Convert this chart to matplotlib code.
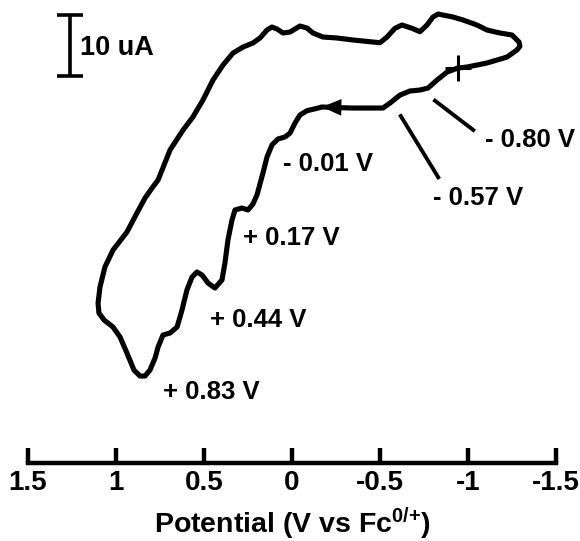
import matplotlib
matplotlib.use("Agg")
import matplotlib.pyplot as plt

plt.rcParams['font.family'] = ['Liberation Sans', 'DejaVu Sans']
plt.rcParams['font.weight'] = 'bold'
plt.rcParams['mathtext.fontset'] = 'custom'
plt.rcParams['mathtext.rm'] = 'Liberation Sans:bold'
plt.rcParams['mathtext.it'] = 'Liberation Sans:bold'
plt.rcParams['mathtext.bf'] = 'Liberation Sans:bold'

# cyclic voltammogram, starting at the open-circuit point (+), scanned
# positive along the lower trace and back along the upper one
potential = [-0.943, -0.881, -0.824, -0.773, -0.727, -0.670, -0.614, -0.557, -0.517, -0.443,
             -0.347, -0.244, -0.170, -0.142, -0.085, -0.045, -0.017, 0.011, 0.040, 0.080,
             0.114, 0.142, 0.165, 0.199, 0.222, 0.250, 0.284, 0.324, 0.341, 0.364,
             0.381, 0.398, 0.438, 0.477, 0.511, 0.540, 0.568, 0.597, 0.625, 0.653,
             0.693, 0.733, 0.761, 0.778, 0.807, 0.835, 0.864, 0.898, 0.938, 0.977,
             1.017, 1.068, 1.097, 1.102, 1.091, 1.063, 1.017, 0.938, 0.881, 0.835,
             0.795, 0.761, 0.693, 0.619, 0.563, 0.506, 0.449, 0.392, 0.335, 0.278,
             0.222, 0.182, 0.142, 0.114, 0.085, 0.051, 0.011, -0.045, -0.085, -0.119,
             -0.176, -0.216, -0.256, -0.347, -0.443, -0.500, -0.540, -0.585, -0.625, -0.682,
             -0.727, -0.767, -0.801, -0.830, -0.915, -0.972, -1.051, -1.108, -1.182, -1.250,
             -1.290, -1.295, -1.278, -1.222, -1.108, -0.994, -0.943]
current = [21.64, 20.98, 19.67, 18.36, 18.03, 17.87, 17.21, 15.90, 15.08, 15.08,
           15.08, 15.16, 15.25, 15.03, 14.64, 13.93, 12.62, 10.98, 10.33, 10.00,
           9.02, 7.05, 4.43, 0.82, -0.66, -1.64, -1.31, -1.64, -3.28, -6.56,
           -10.33, -13.11, -14.43, -13.61, -12.30, -11.80, -12.62, -14.75, -18.03, -20.82,
           -21.80, -22.13, -24.10, -25.90, -27.87, -28.85, -28.85, -27.87, -25.08, -22.46,
           -20.82, -19.67, -18.52, -16.89, -14.26, -10.98, -8.20, -5.25, -2.13, 0.33,
           1.97, 3.28, 8.20, 11.48, 13.61, 16.39, 19.67, 22.13, 24.10, 25.08,
           25.74, 26.56, 27.87, 28.36, 28.03, 27.38, 27.54, 28.52, 28.20, 27.38,
           26.72, 26.64, 26.56, 26.23, 25.95, 25.79, 26.72, 28.15, 28.69, 28.15,
           27.59, 28.69, 30.00, 30.49, 30.00, 29.51, 28.69, 27.87, 27.38, 27.05,
           25.90, 25.2, 24.59, 23.44, 22.46, 21.80, 21.64]

start_point = (-0.943, 21.64)

xticks = [1.5, 1, 0.5, 0, -0.5, -1, -1.5]
xtick_labels = ['1.5', '1', '0.5', '0', '-0.5', '-1', '-1.5']

fig = plt.figure(figsize=(5.8, 5.41), dpi=100)
ax = fig.add_axes([0.0483, 0.1442, 0.9103, 0.8558])

ax.plot(potential, current, color='k', lw=3.7,
        solid_joinstyle='round', solid_capstyle='round')
ax.plot(*start_point, marker='+', color='k', ms=19, mew=2.2)

# scan direction arrow
ax.annotate('', xy=(-0.170, 15.25), xytext=(-0.30, 15.18),
            arrowprops=dict(arrowstyle='-|>,head_length=0.7,head_width=0.3',
                            mutation_scale=20, color='k', lw=0,
                            shrinkA=0, shrinkB=0))

# peak labels
fs = 18.5
ax.text(-1.097, 9.84, '- 0.80 V', fontsize=fs, ha='left', va='center')
ax.plot([-0.8125, -1.030], [16.28, 11.48], color='k', lw=2.8)
ax.text(-0.801, 0.33, '- 0.57 V', fontsize=fs, ha='left', va='center')
ax.plot([-0.618, -0.831], [13.77, 3.72], color='k', lw=2.8)
ax.text(0.051, 5.90, '- 0.01 V', fontsize=fs, ha='left', va='center')
ax.text(0.278, -6.23, '+ 0.17 V', fontsize=fs, ha='left', va='center')
ax.text(0.466, -19.67, '+ 0.44 V', fontsize=fs, ha='left', va='center')
ax.text(0.733, -31.48, '+ 0.83 V', fontsize=fs, ha='left', va='center')

# 10 uA scale bar
ax.errorbar(1.261, 25.33, yerr=5, fmt='none', ecolor='k',
            elinewidth=2.6, capsize=9.7, capthick=2.6)
ax.text(1.205, 24.9, '10 uA', fontsize=19.5, ha='left', va='center')

ax.set_xlim(1.5, -1.5)
ax.set_ylim(-43.11, 32.79)
ax.set_xticks(xticks)
ax.set_xticklabels(xtick_labels, fontsize=20, fontweight='bold')
ax.set_yticks([])
for side in ['left', 'right', 'top']:
    ax.spines[side].set_visible(False)
ax.spines['bottom'].set_linewidth(3.2)
ax.tick_params(axis='x', direction='in', length=11, width=3.2, pad=5)
ax.set_xlabel(r'Potential (V vs Fc$^{0/{+}}$)', fontsize=20.5, fontweight='bold', labelpad=7)
ax.patch.set_visible(False)

fig.savefig('out.png', dpi=100)
